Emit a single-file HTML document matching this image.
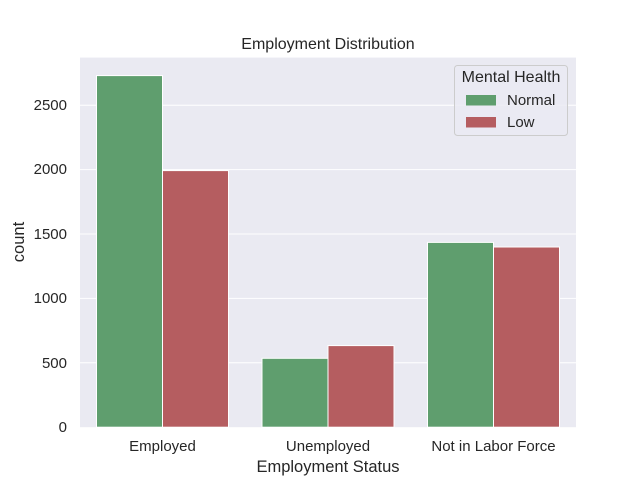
<!DOCTYPE html>
<html><head><meta charset="utf-8"><style>body{margin:0;background:#fff}svg{display:block}text{font-family:"Liberation Sans","DejaVu Sans",sans-serif;fill:#262626}</style></head><body>
<svg width="640" height="480" viewBox="0 0 640 480">
<rect x="80" y="57.6" width="496" height="369.6" fill="#eaeaf2"/>
<g stroke="#fff" stroke-width="1">
<line x1="80" x2="576" y1="362.8" y2="362.8"/>
<line x1="80" x2="576" y1="298.4" y2="298.4"/>
<line x1="80" x2="576" y1="234" y2="234"/>
<line x1="80" x2="576" y1="169.6" y2="169.6"/>
<line x1="80" x2="576" y1="105.2" y2="105.2"/>
</g>
<g stroke="#fff" stroke-width="1">
<rect x="96.5" y="75.6" width="66" height="351.6" fill="#5f9e6e"/>
<rect x="162.5" y="170.6" width="66" height="256.6" fill="#b55d60"/>
<rect x="262" y="358.3" width="66" height="68.9" fill="#5f9e6e"/>
<rect x="328" y="345.6" width="66" height="81.6" fill="#b55d60"/>
<rect x="427.5" y="242.4" width="66" height="184.8" fill="#5f9e6e"/>
<rect x="493.5" y="247" width="66" height="180.2" fill="#b55d60"/>
</g>
<g font-size="15" text-anchor="end">
<text x="67" y="432">0</text>
<text x="67" y="368">500</text>
<text x="67" y="303">1000</text>
<text x="67" y="239">1500</text>
<text x="67" y="174">2000</text>
<text x="67" y="110">2500</text>
</g>
<g font-size="15" text-anchor="middle">
<text x="162.5" y="451">Employed</text>
<text x="328" y="451">Unemployed</text>
<text x="493.5" y="451">Not in Labor Force</text>
<text x="328" y="472" font-size="16.5">Employment Status</text>
<text x="328" y="49" font-size="16">Employment Distribution</text>
</g>
<text x="24" y="242" font-size="16.5" text-anchor="middle" transform="rotate(-90 24 242)">count</text>
<rect x="454.5" y="65.5" width="113" height="70" rx="3" fill="#eaeaf2" fill-opacity="0.8" stroke="#cccccc"/>
<text x="511" y="82" font-size="16" text-anchor="middle">Mental Health</text>
<rect x="466" y="95" width="30" height="10.5" fill="#5f9e6e"/>
<rect x="466" y="117" width="30" height="10.5" fill="#b55d60"/>
<text x="507" y="105" font-size="15">Normal</text>
<text x="507" y="127" font-size="15">Low</text>
</svg>
</body></html>
